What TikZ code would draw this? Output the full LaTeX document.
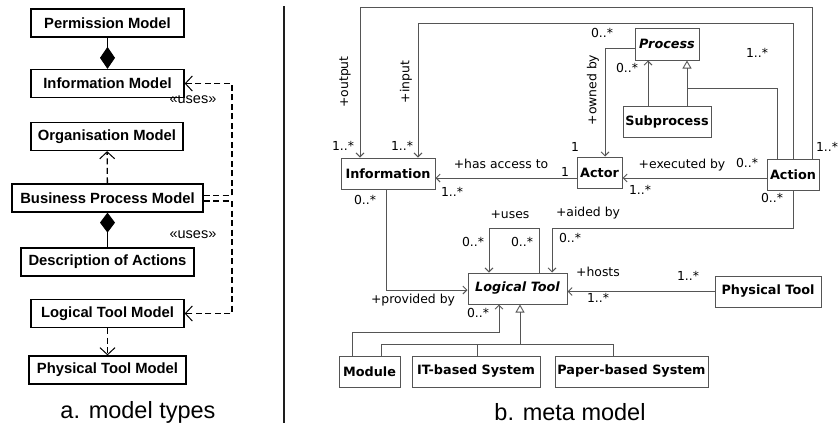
\documentclass[tikz,border=0pt]{standalone}
\usepackage{fontspec}
\setmainfont{Liberation Sans}
\newfontfamily\metafont{DejaVu Sans}
\usepackage{xcolor}
\definecolor{Col1}{RGB}{0,0,0}
\definecolor{Col2}{RGB}{85,85,85}
\definecolor{Col5}{RGB}{30,30,30}
\usepackage{tikz}
\usetikzlibrary{arrows.meta}
\tikzstyle{ModelNode}=[draw=Col1,line width=1.3pt,inner sep=0pt,
minimum height=28pt,font=\fontsize{14.8}{16}\selectfont\bfseries]
\tikzstyle{ClassNode}=[draw=Col2,line width=1pt,inner sep=0pt,
minimum height=31pt,font=\metafont\fontsize{12.8}{15}\selectfont\bfseries]
\tikzstyle{AbstractNode}=[ClassNode,
font=\metafont\fontsize{12.8}{15}\selectfont\bfseries\itshape]
\tikzstyle{Label}=[inner sep=0pt,font=\metafont\fontsize{12.4}{14}\selectfont]
\tikzstyle{Stereo}=[inner sep=0pt,font=\fontsize{14.5}{16}\selectfont]
\tikzstyle{Caption}=[inner sep=0pt,font=\fontsize{23.5}{26}\selectfont]
\tikzstyle{Edge}=[draw=Col2,line width=0.9pt]
\tikzstyle{AssocEdge}=[Edge,-{Straight Barb[length=4pt,width=8pt]}]
\tikzstyle{GenEdge}=[Edge,-{Triangle[open,length=8pt,width=9pt]}]
\tikzstyle{CompEdge}=[draw=Col1,line width=0.9pt]
\tikzstyle{DepEdge}=[draw=Col1,line width=1.3pt,dash pattern=on 6pt off 3.5pt,
-{Straight Barb[length=7pt,width=15pt,line width=1pt]}]

\begin{document}
\begin{tikzpicture}[x=1pt,y=-1pt]
            \useasboundingbox(0,0)rectangle(839,426);
            % model types
            \node[ModelNode,minimum width=153pt](PermM)at(107.5,23)
                {Permission Model};
            \node[ModelNode,minimum width=153pt](InfoM)at(107.5,83.5)
                {Information Model};
            \node[ModelNode,minimum width=152pt](OrgM)at(107,136.5)
                {Organisation Model};
            \node[ModelNode,minimum width=191pt](BPM)at(107.5,198)
                {Business Process Model};
            \node[ModelNode,minimum width=173pt](DescA)at(107.5,262)
                {Description of Actions};
            \node[ModelNode,minimum width=153pt](LTM)at(107.5,313.5)
                {Logical Tool Model};
            \node[ModelNode,minimum width=157pt](PTM)at(107.5,370)
                {Physical Tool Model};
            \coordinate(UseTop)at(232,83.5);
            \coordinate(UseBot)at(232,313.5);
            \draw[CompEdge,-{Diamond[length=22pt,width=15pt]}](PermM)--(InfoM);
            \draw[CompEdge,{Diamond[length=20pt,width=15pt]}-](BPM)--(DescA);
            \draw[DepEdge](BPM)--(OrgM);
            \draw[DepEdge]([yshift=2.5pt]BPM.east)-|(UseTop)--(InfoM.east);
            \draw[DepEdge]([yshift=-3pt]BPM.east)-|(UseBot)--(LTM.east);
            \draw[DepEdge](LTM)--(PTM);
            \node[Stereo](uses1)at(193,100){«uses»};
            \node[Stereo](uses2)at(193,235){«uses»};
            \node[Caption](capA)at(138,412){a. model types};
            %
            \draw[draw=Col5,line width=1.2pt](284,6)--(284,423);
            % meta model
            \node[ClassNode,minimum width=94pt](Info)at(388,173.5){Information};
            \node[AbstractNode,minimum width=64pt,minimum height=32pt](Process)
                at(667,44){Process};
            \node[ClassNode,minimum width=88pt](Subproc)at(667,121.5){Subprocess};
            \node[ClassNode,minimum width=45pt](Actor)at(599.5,172.5){Actor};
            \node[ClassNode,minimum width=52pt](Action)at(793,174.5){Action};
            \node[AbstractNode,minimum width=99pt](LogTool)at(517.5,288.5)
                {Logical Tool};
            \node[ClassNode,minimum width=106pt](PhysTool)at(768,291.5)
                {Physical Tool};
            \node[ClassNode,minimum width=61pt](Module)at(369.5,371.5){Module};
            \node[ClassNode,minimum width=128pt](ITSys)at(476,371.5)
                {IT-based System};
            \node[ClassNode,minimum width=153pt](PaperSys)at(631.5,371.5)
                {Paper-based System};
            %
            \coordinate(OutR)at(812,7);
            \coordinate(OutL)at(360,7);
            \coordinate(InR)at(793,23);
            \coordinate(InL)at(418,23);
            \coordinate(GenA)at(777,88);
            \coordinate(GenJ)at(687,88);
            \coordinate(SubX)at(648,88);
            \coordinate(OwnC)at(605,48);
            \coordinate(AccY)at(500,178);
            \coordinate(AidR)at(793,228);
            \coordinate(AidL)at(552,228);
            \coordinate(UseR)at(539,228);
            \coordinate(UseL)at(489,228);
            \coordinate(ProvC)at(386,290);
            \coordinate(ModL)at(352,332);
            \coordinate(ModR)at(499,332);
            \coordinate(GenB)at(520,344);
            \coordinate(GenM)at(381,344);
            \coordinate(GenI)at(477,344);
            \coordinate(GenP)at(613,344);
            \draw[AssocEdge](Action.north-|OutR)--(OutR)--(OutL)--(Info.north-|OutL);
            \draw[AssocEdge](Action.north-|InR)--(InR)--(InL)--(Info.north-|InL);
            \draw[Edge](Action.north-|GenA)--(GenA)--(GenJ);
            \draw[GenEdge](Subproc.north-|GenJ)--(Process.south-|GenJ);
            \draw[AssocEdge](Subproc.north-|SubX)--(Process.south-|SubX);
            \draw[AssocEdge](Process.west|-OwnC)--(OwnC)--(Actor.north-|OwnC);
            \draw[AssocEdge](Actor.west|-AccY)--(Info.east|-AccY);
            \draw[AssocEdge](Action.west|-AccY)--(Actor.east|-AccY);
            \draw[AssocEdge](Action.south-|AidR)--(AidR)--(AidL)--(LogTool.north-|AidL);
            \draw[AssocEdge](LogTool.north-|UseR)--(UseR)--(UseL)--(LogTool.north-|UseL);
            \draw[AssocEdge](Info.south-|ProvC)--(ProvC)--(LogTool.west|-ProvC);
            \draw[AssocEdge](PhysTool.west)--(LogTool.east|-PhysTool.west);
            \draw[AssocEdge](Module.north-|ModL)--(ModL)--(ModR)--(LogTool.south-|ModR);
            \draw[GenEdge](GenB)--(LogTool.south-|GenB);
            \draw[Edge](Module.north-|GenM)--(GenM)--(GenP)--(PaperSys.north-|GenP);
            \draw[Edge](ITSys.north-|GenI)--(GenI);
            %
            \node[Label,rotate=90](output)at(345,82){+output};
            \node[Label,rotate=90](input)at(406,82){+input};
            \node[Label,rotate=90](ownedby)at(593,90){+owned by};
            \node[Label](access)at(501,164){+has access to};
            \node[Label](executed)at(682,165){+executed by};
            \node[Label](aided)at(588,213){+aided by};
            \node[Label](usesT)at(510,215){+uses};
            \node[Label](hosts)at(598,272){+hosts};
            \node[Label](provided)at(413,300){+provided by};
            \node[Label](m1)at(343,146){1..*};
            \node[Label](m2)at(402,146){1..*};
            \node[Label](m3)at(565,172){1};
            \node[Label](m4)at(452,192){1..*};
            \node[Label](m5)at(365,200){0..*};
            \node[Label](m6)at(602,33){0..*};
            \node[Label](m7)at(575,147){1};
            \node[Label](m8)at(627,68){0..*};
            \node[Label](m9)at(757,53){1..*};
            \node[Label](m10)at(827,147){1..*};
            \node[Label](m11)at(747,163){0..*};
            \node[Label](m12)at(640,190){1..*};
            \node[Label](m13)at(772,198){0..*};
            \node[Label](m14)at(570,238){0..*};
            \node[Label](m15)at(473,242){0..*};
            \node[Label](m16)at(522,242){0..*};
            \node[Label](m17)at(688,276){1..*};
            \node[Label](m18)at(598,298){1..*};
            \node[Label](m19)at(478,313){0..*};
            \node[Caption](capB)at(570,412){b. meta model};
        \end{tikzpicture}
\end{document}
